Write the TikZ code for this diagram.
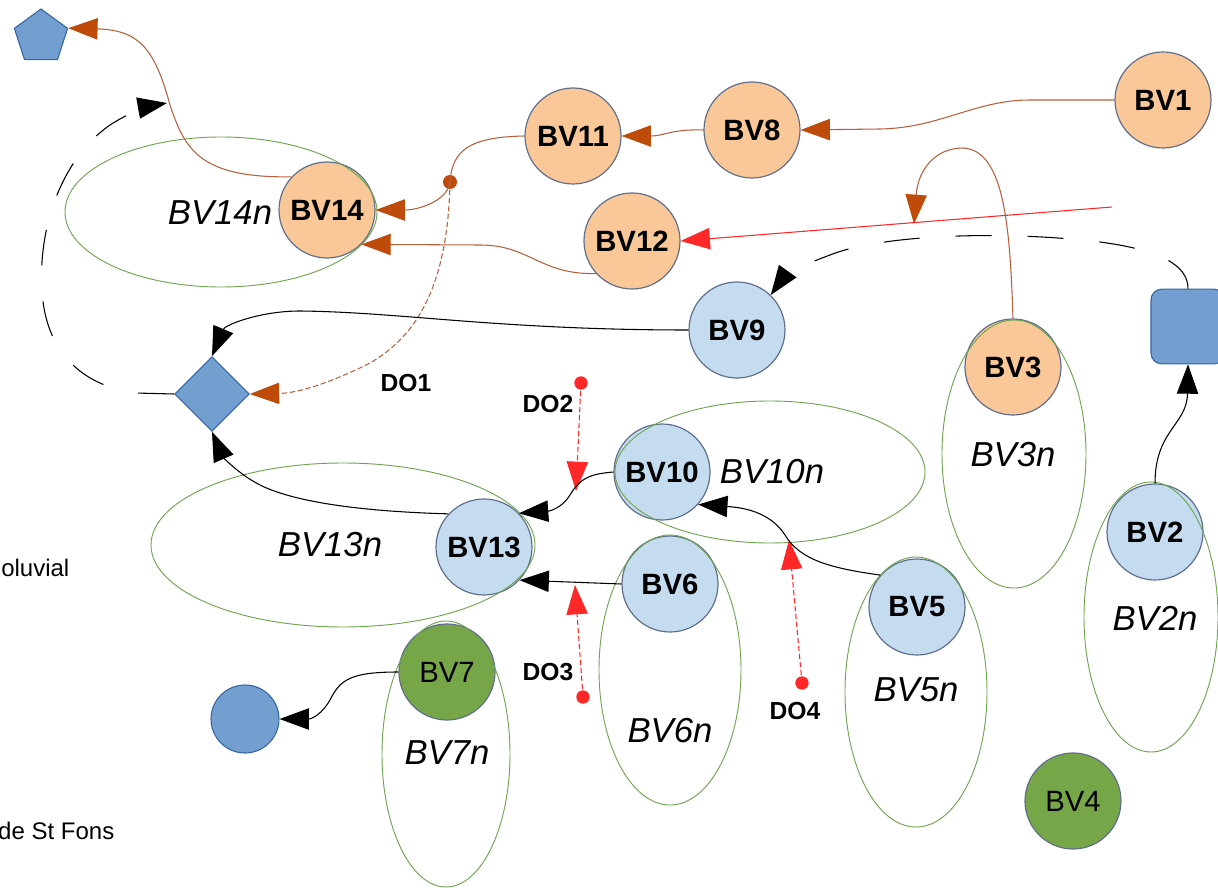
\documentclass[tikz,border=0pt]{standalone}
\usepackage{fontspec}
\setmainfont{Liberation Sans}
\usetikzlibrary{arrows.meta,shapes.geometric}
\definecolor{orng}{RGB}{250,200,152}
\definecolor{lblue}{RGB}{197,220,240}
\definecolor{grn}{RGB}{119,166,73}
\definecolor{circborder}{RGB}{96,112,140}
\definecolor{dblue}{RGB}{114,159,207}
\definecolor{dbord}{RGB}{52,101,164}
\definecolor{elgreen}{RGB}{110,165,80}
\definecolor{brline}{RGB}{184,95,60}
\definecolor{brtip}{RGB}{190,75,10}
\definecolor{redc}{RGB}{255,40,40}
\begin{document}
\begin{tikzpicture}[x=0.75pt,y=-0.75pt,
  bv/.style={circle, draw=circborder, line width=0.9pt, minimum size=72pt, inner sep=0pt, font=\fontsize{22}{24}\selectfont\bfseries},
  orangebv/.style={bv, fill=orng},
  bluebv/.style={bv, fill=lblue},
  greenbv/.style={bv, fill=grn, font=\fontsize{22}{24}\selectfont},
  basin/.style={ellipse, draw=elgreen, line width=0.7pt, inner sep=0pt},
  basinlabel/.style={font=\fontsize{26}{28}\selectfont\itshape},
  dolabel/.style={font=\fontsize{18.5}{20}\selectfont\bfseries},
  sidetext/.style={font=\fontsize{18}{20}\selectfont},
  outlet/.style={fill=dblue, draw=dbord, line width=0.8pt, inner sep=0pt},
  brownflow/.style={draw=brline, line width=0.8pt, -{Triangle[length=22pt,width=16pt,fill=brtip,color=brtip]}},
  blackflow/.style={draw=black, line width=0.8pt, -{Triangle[length=22pt,width=16pt]}},
  redflow/.style={draw=redc, line width=0.8pt, -{Triangle[length=22pt,width=16pt,fill=redc,color=redc]}},
  dashdo/.style={redflow, dash pattern=on 4pt off 2pt},
  longdash/.style={dash pattern=on 27pt off 27pt},
  dotred/.style={circle, fill=redc, minimum size=10pt, inner sep=0pt},
  dotbrown/.style={circle, fill=brtip, minimum size=10.5pt, inner sep=0pt}
]
\useasboundingbox (0,0) rectangle (1218,888);
\clip (0,0) rectangle (1218,888);

% outlets
\node[outlet, regular polygon, regular polygon sides=5, minimum size=42pt] (pent) at (41,37) {};
\node[outlet, diamond, aspect=1, minimum width=56pt, minimum height=56pt] (dia) at (212,394) {};
\node[outlet, rectangle, rounded corners=8pt, minimum width=55.5pt, minimum height=56pt] (rect) at (1188,326.5) {};
\node[outlet, circle, minimum size=51pt] (blue) at (245,719) {};

% basins
\node[orangebv] (bv1) at (1163,100) {BV1};
\node[orangebv] (bv8) at (752,130) {BV8};
\node[orangebv] (bv11) at (573,136) {BV11};
\node[orangebv] (bv12) at (632,241) {BV12};
\node[orangebv] (bv14) at (327,210) {BV14};
\node[orangebv] (bv3) at (1013,367) {BV3};
\node[bluebv] (bv9) at (737,330) {BV9};
\node[bluebv] (bv10) at (662,472) {BV10};
\node[bluebv] (bv13) at (484,547) {BV13};
\node[bluebv] (bv6) at (670,584) {BV6};
\node[bluebv] (bv5) at (917,607) {BV5};
\node[bluebv] (bv2) at (1155,532) {BV2};
\node[greenbv] (bv4) at (1073,801) {BV4};
\node[greenbv] (bv7) at (447,672) {BV7};

% natural areas
\node[basin, minimum width=234pt, minimum height=112.5pt] (e14) at (221,212) {};
\node[basin, minimum width=288pt, minimum height=123pt] (e13) at (343,545) {};
\node[basin, minimum width=232.5pt, minimum height=106.5pt] (e10) at (770,472) {};
\node[basin, minimum width=108pt, minimum height=201pt] (e3) at (1014,454) {};
\node[basin, minimum width=100.5pt, minimum height=202.5pt] (e2) at (1151,617) {};
\node[basin, minimum width=106.5pt, minimum height=202.5pt] (e5) at (916,692) {};
\node[basin, minimum width=106.5pt, minimum height=202.5pt] (e6) at (670,670) {};
\node[basin, minimum width=96pt, minimum height=199.5pt] (e7) at (446,754) {};

\node[basinlabel] (l14) at (220,213) {BV14n};
\node[basinlabel] (l13) at (330,545) {BV13n};
\node[basinlabel] (l10) at (772,472) {BV10n};
\node[basinlabel] (l3) at (1013,455) {BV3n};
\node[basinlabel] (l2) at (1155,618) {BV2n};
\node[basinlabel] (l5) at (916,690) {BV5n};
\node[basinlabel] (l6) at (670,731) {BV6n};
\node[basinlabel] (l7) at (447,753) {BV7n};

% DO labels and points
\node[dolabel] (do1) at (406,383) {DO1};
\node[dolabel] (do2) at (548,404) {DO2};
\node[dolabel] (do3) at (548,672) {DO3};
\node[dolabel] (do4) at (795,711) {DO4};
\node[dotbrown] (d1) at (450,182) {};
\node[dotred] (d2) at (581,383) {};
\node[dotred] (d3) at (583,697) {};
\node[dotred] (d4) at (802,683) {};

\node[sidetext, anchor=west, inner sep=0pt] (t1) at (1,568) {oluvial};
\node[sidetext, anchor=east] (t2) at (119,831) {de St Fons};

% free ends
\coordinate (redstart) at (1112,207);
\coordinate (t3tip) at (914,224);
\coordinate (looptip) at (167,103);
\coordinate (do2tip) at (576,491);
\coordinate (do3tip) at (575,585);
\coordinate (do4tip) at (789,540);

% brown flows
\draw[brownflow] (bv1.west) -- (1030,100) .. controls (975,100) and (940,128) .. (880,129) -- (bv8.east);
\draw[brownflow] (bv8.west) .. controls (670,129) and (665,136) .. (bv11.east);
\draw[brownflow] (bv11.west) .. controls (470,137) and (452,150) .. (d1.center) .. controls (448,200) and (420,210) .. (bv14.east);
\draw[brownflow] (bv12.222) .. controls (540,275) and (530,245) .. (480,245) -- (bv14.-45);
\draw[brownflow] (bv14.137) .. controls (200,178) and (185,150) .. (170,105) .. controls (155,50) and (140,30) .. (pent.corner 5);
\draw[brownflow] (bv3.north) .. controls (1010,230) and (1005,150) .. (963,148) .. controls (935,148) and (918,170) .. (t3tip);
\draw[brownflow, dash pattern=on 4pt off 2pt] (d1.center) .. controls (448,280) and (420,340) .. (360,368) .. controls (330,382) and (300,393) .. (dia.east);

% red flows
\draw[redflow] (redstart) -- (bv12.east);
\draw[dashdo] (d2.center) -- (do2tip);
\draw[dashdo] (d3.center) -- (do3tip);
\draw[dashdo] (d4.center) -- (do4tip);

% black flows
\draw[blackflow, longdash] (rect.north) .. controls (1188,265) and (1160,250) .. (1100,242) .. controls (1000,230) and (880,235) .. (830,255) .. controls (805,264) and (785,275) .. (bv9.46);
\draw[blackflow] (bv2.north) .. controls (1155,430) and (1187,425) .. (rect.south);
\draw[blackflow] (bv9.west) .. controls (500,330) and (400,312) .. (300,311) .. controls (260,311) and (225,325) .. (dia.north);
\draw[blackflow] (bv13.137) .. controls (380,512) and (300,505) .. (260,485) .. controls (235,472) and (222,455) .. (dia.south);
\draw[blackflow, longdash] (dia.west) -- (135,393) .. controls (80,385) and (45,350) .. (42,290) .. controls (38,230) and (60,160) .. (110,125) .. controls (130,112) and (150,106) .. (looptip);
\draw[blackflow] (bv10.west) .. controls (590,474) and (580,478) .. (570,495) .. controls (562,508) and (550,511) .. (bv13.44);
\draw[blackflow] (bv6.west) -- (bv13.-43);
\draw[blackflow] (bv5.139) .. controls (830,568) and (800,560) .. (785,535) .. controls (772,515) and (750,508) .. (bv10.-42);
\draw[blackflow] (bv7.west) .. controls (350,672) and (340,680) .. (330,700) .. controls (322,714) and (312,719) .. (blue.east);
\end{tikzpicture}
\end{document}
